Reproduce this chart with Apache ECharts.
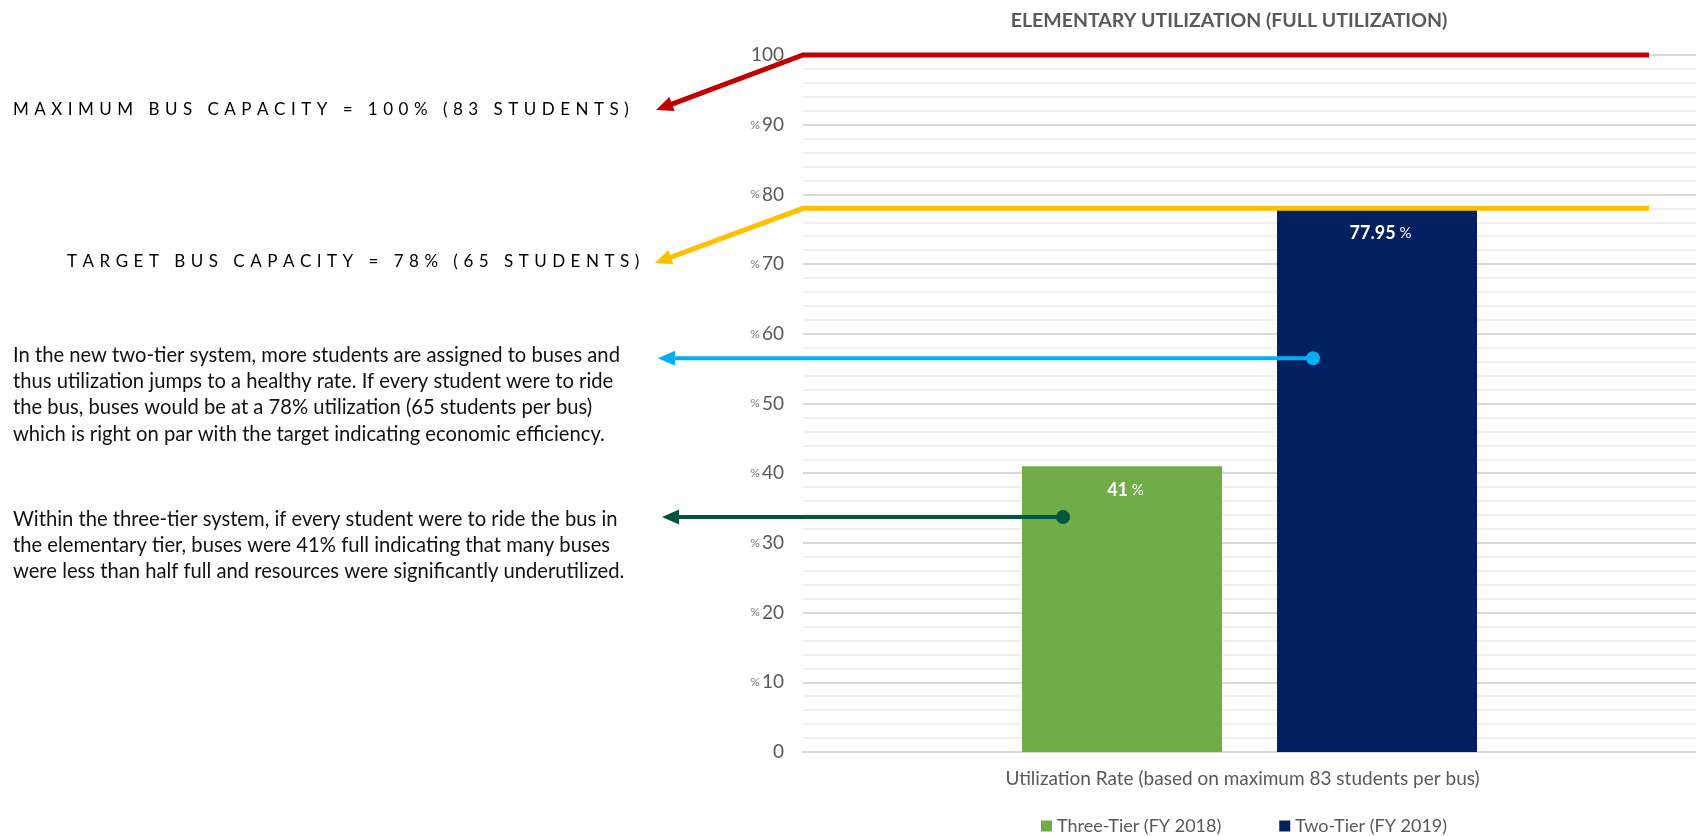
<!DOCTYPE html>
<html>
<head>
<meta charset="utf-8">
<title>Elementary Utilization</title>
<script src="https://cdn.jsdelivr.net/npm/echarts@6/dist/echarts.min.js"></script>
<style>
  html, body { margin: 0; padding: 0; background: #ffffff; }
  #chart { width: 1696px; height: 836px; }
</style>
</head>
<body>
<div id="chart"></div>
<script>
// ---- data ----
const categories = ['Utilization Rate (based on maximum 83 students per bus)'];
const seriesNames = ['Three-Tier (FY 2018)', 'Two-Tier (FY 2019)'];
const threeTierValues = [41];
const twoTierValues = [77.95];
const yTickValues = [0, 10, 20, 30, 40, 50, 60, 70, 80, 90, 100];

// capacity reference levels (percent of a full bus)
const capacityLevels = [100, 78];
const capacityNotes = [
  'MAXIMUM BUS CAPACITY = 100% (83 STUDENTS)',
  'TARGET BUS CAPACITY = 78% (65 STUDENTS)'
];
// levels on the bars that the explanatory notes point from
const noteLevels = [56.5, 33.7];
const twoTierNote = [
  'In the new two-tier system, more students are assigned to buses and',
  'thus utilization jumps to a healthy rate. If every student were to ride',
  'the bus, buses would be at a 78% utilization (65 students per bus)',
  'which is right on par with the target indicating economic efficiency.'
];
const threeTierNote = [
  'Within the three-tier system, if every student were to ride the bus in',
  'the elementary tier, buses were 41% full indicating that many buses',
  'were less than half full and resources were significantly underutilized.'
];

// ---- styles ----
const FONT = 'Lato, "Open Sans", sans-serif';
const GREY = '#595959';
const COLORS = { three: '#70AD47', two: '#002060', max: '#C00000', target: '#FFC000', blue: '#00B0F0', dark: '#00573F' };
const NOTE_FONT_SIZE = 17;
const NOTE_WIDTH = 620;   // width of the spaced-out capacity caption

const chart = echarts.init(document.getElementById('chart'), null, { renderer: 'canvas' });

function valueLabel(params) {
  return '{v|' + params.value + '}{p| %}';
}
const barLabel = {
  show: true,
  position: 'insideTop',
  distance: 15,
  padding: [0, 0, 0, 7],
  formatter: valueLabel,
  rich: {
    v: { fontFamily: FONT, fontSize: 18, fontWeight: 'bold', color: '#ffffff' },
    p: { fontFamily: FONT, fontSize: 15, color: '#ffffff' }
  }
};

const option = {
  animation: false,
  backgroundColor: '#ffffff',
  title: {
    text: 'ELEMENTARY UTILIZATION (FULL UTILIZATION)',
    left: 1224,
    textAlign: 'center',
    top: 6,
    textStyle: { fontFamily: FONT, fontSize: 19.5, fontWeight: 'bold', color: GREY }
  },
  grid: { left: 803, right: 0, top: 55, bottom: 84, containLabel: false },
  legend: {
    left: 1036,
    top: 812,
    icon: 'rect',
    itemWidth: 11,
    itemHeight: 11,
    itemGap: 58,
    data: seriesNames,
    textStyle: { fontFamily: FONT, fontSize: 18, color: GREY }
  },
  xAxis: {
    type: 'category',
    data: categories,
    axisTick: { show: false },
    axisLine: { show: true, lineStyle: { color: '#d9d9d9', width: 2 } },
    axisLabel: { fontFamily: FONT, fontSize: 19, color: GREY, margin: 17, padding: [0, 14, 0, 0] }
  },
  yAxis: {
    type: 'value',
    min: yTickValues[0],
    max: yTickValues[yTickValues.length - 1],
    interval: yTickValues[1] - yTickValues[0],
    axisLine: { show: false },
    axisTick: { show: false },
    splitLine: { show: true, lineStyle: { color: '#d9d9d9', width: 2 } },
    minorTick: { show: false, splitNumber: 5 },
    minorSplitLine: { show: true, lineStyle: { color: '#f0f0f0', width: 2 } },
    axisLabel: {
      margin: 19,
      formatter: function (v) {
        if (v === yTickValues[0] || v === yTickValues[yTickValues.length - 1]) return '{n|' + v + '}';
        return '{p|%}{n|' + v + '}';
      },
      rich: {
        n: { fontFamily: FONT, fontSize: 19, color: GREY },
        p: { fontFamily: FONT, fontSize: 12, color: '#7f7f7f', padding: [0, 2, 0, 0] }
      }
    }
  },
  series: [
    {
      name: seriesNames[0],
      type: 'bar',
      data: threeTierValues,
      barWidth: 200,
      barGap: '27.5%',
      itemStyle: { color: COLORS.three },
      label: barLabel
    },
    {
      name: seriesNames[1],
      type: 'bar',
      data: twoTierValues,
      barWidth: 200,
      barGap: '27.5%',
      itemStyle: { color: COLORS.two },
      label: barLabel
    }
  ]
};

chart.setOption(option);

// ---- annotation arrows and notes, positioned through the value axis ----
const yPx = v => chart.convertToPixel({ yAxisIndex: 0 }, v);
const barLayout = i => chart.getModel().getSeriesByIndex(i).getData().getItemLayout(0);

function arrowHead(tip, from, color, len, half) {
  const dx = tip[0] - from[0], dy = tip[1] - from[1];
  const d = Math.sqrt(dx * dx + dy * dy);
  const ux = dx / d, uy = dy / d;
  const bx = tip[0] - ux * len, by = tip[1] - uy * len;
  return {
    type: 'polygon',
    shape: { points: [tip, [bx - uy * half, by + ux * half], [bx + uy * half, by - ux * half]] },
    style: { fill: color },
    z: 20
  };
}
function arrow(points, color, width) {
  const n = points.length;
  const tip = points[n - 1], prev = points[n - 2];
  const dx = tip[0] - prev[0], dy = tip[1] - prev[1];
  const d = Math.sqrt(dx * dx + dy * dy);
  const shaft = points.slice(0, n - 1).concat([[tip[0] - dx / d * 12, tip[1] - dy / d * 12]]);
  return [
    { type: 'polyline', shape: { points: shaft }, style: { stroke: color, lineWidth: width, fill: null, lineJoin: 'miter' }, z: 20 },
    arrowHead(tip, prev, color, 17, 7.5)
  ];
}

// letter-spaced caption: one rich-text token per character with right padding
const measureCtx = document.createElement('canvas').getContext('2d');
measureCtx.font = NOTE_FONT_SIZE + 'px ' + FONT;
const noteSpacing = (NOTE_WIDTH - measureCtx.measureText(capacityNotes[0]).width) / capacityNotes[0].length;
function spacedText(s) {
  return s.split('').map(c => '{s|' + c + '}').join('');
}
function spacedNote(s, left, top) {
  return {
    type: 'text', left: left, top: top, z: 30,
    style: {
      text: spacedText(s),
      rich: { s: { fontFamily: FONT, fontSize: NOTE_FONT_SIZE, color: '#262626', padding: [0, noteSpacing, 0, 0] } }
    }
  };
}

const plotLeft = 803;
const refEnd = 1649;
const elements = [];

// maximum / target capacity lines bending to their notes
const yMax = yPx(capacityLevels[0]);
const yTarget = yPx(capacityLevels[1]);
elements.push(...arrow([[refEnd, yMax], [plotLeft, yMax], [656, 110]], COLORS.max, 5));
elements.push(...arrow([[refEnd, yTarget], [plotLeft, yTarget], [655, 263]], COLORS.target, 5));

// pointers from the bars to the explanatory paragraphs
const twoBar = barLayout(1);
const threeBar = barLayout(0);
const yTwo = yPx(noteLevels[0]);
const yThree = yPx(noteLevels[1]);
const twoDot = [twoBar.x + 36, yTwo];
const threeDot = [threeBar.x + 41, yThree];
elements.push(...arrow([twoDot, [658, yTwo]], COLORS.blue, 4));
elements.push({ type: 'circle', shape: { cx: twoDot[0], cy: twoDot[1], r: 7 }, style: { fill: COLORS.blue }, z: 21 });
elements.push(...arrow([threeDot, [662, yThree]], COLORS.dark, 4));
elements.push({ type: 'circle', shape: { cx: threeDot[0], cy: threeDot[1], r: 7 }, style: { fill: COLORS.dark }, z: 21 });

// capacity notes
elements.push(spacedNote(capacityNotes[0], 13, 101));
elements.push(spacedNote(capacityNotes[1], 67, 253));

// explanatory paragraphs
elements.push({
  type: 'text', left: 13, top: 342, z: 30,
  style: { text: twoTierNote.join('\n'), font: '20.2px ' + FONT, lineHeight: 26.3, fill: '#111111' }
});
elements.push({
  type: 'text', left: 13, top: 506, z: 30,
  style: { text: threeTierNote.join('\n'), font: '20.2px ' + FONT, lineHeight: 26.3, fill: '#111111' }
});

chart.setOption({ graphic: { elements: elements } });
</script>
</body>
</html>
